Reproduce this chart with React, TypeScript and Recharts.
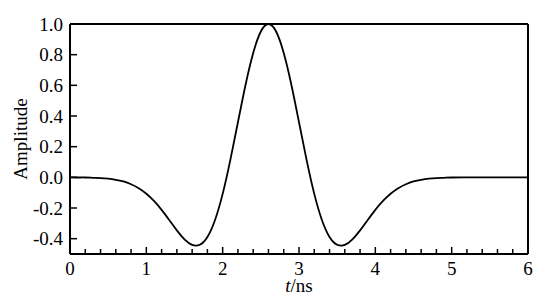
import { LineChart, Line, XAxis, YAxis, ReferenceLine } from "recharts";

// time axis (ns)
const times = [
  0, 0.1, 0.2, 0.3, 0.4, 0.5, 0.6, 0.7, 0.8, 0.9,
  1.0, 1.1, 1.2, 1.3, 1.4, 1.5, 1.6, 1.7, 1.8, 1.9,
  2.0, 2.1, 2.2, 2.3, 2.4, 2.5, 2.6, 2.7, 2.8, 2.9,
  3.0, 3.1, 3.2, 3.3, 3.4, 3.5, 3.6, 3.7, 3.8, 3.9,
  4.0, 4.1, 4.2, 4.3, 4.4, 4.5, 4.6, 4.7, 4.8, 4.9,
  5.0, 5.2, 5.4, 5.6, 5.8, 6.0,
];

// pulse amplitude
const amplitude = [
  0.0, -0.001, -0.001, -0.003, -0.005, -0.009, -0.016, -0.027, -0.045, -0.071,
  -0.107, -0.154, -0.212, -0.278, -0.346, -0.405, -0.441, -0.44, -0.389, -0.278,
  -0.108, 0.112, 0.359, 0.604, 0.811, 0.951, 1.0, 0.951, 0.811, 0.604,
  0.359, 0.112, -0.108, -0.278, -0.389, -0.44, -0.441, -0.405, -0.346, -0.278,
  -0.212, -0.154, -0.107, -0.071, -0.045, -0.027, -0.016, -0.009, -0.005, -0.003,
  -0.001, 0.0, 0.0, 0.0, 0.0, 0.0,
];

const xTicks = [
  0, 0.2, 0.4, 0.6, 0.8, 1, 1.2, 1.4, 1.6, 1.8, 2, 2.2, 2.4, 2.6, 2.8, 3,
  3.2, 3.4, 3.6, 3.8, 4, 4.2, 4.4, 4.6, 4.8, 5, 5.2, 5.4, 5.6, 5.8, 6,
];
const yTicks = [-0.4, -0.2, 0, 0.2, 0.4, 0.6, 0.8, 1.0];

const data = times.map((t, i) => ({ t, amp: amplitude[i] }));

const FONT = "'Liberation Serif', 'Times New Roman', serif";

function XTick(props: any) {
  const { x, y, payload } = props;
  const v = payload.value;
  const major = Math.abs(v - Math.round(v)) < 1e-6;
  return (
    <g>
      <line x1={x} x2={x} y1={y} y2={y - (major ? 7 : 5)} stroke="#000" strokeWidth={1.5} />
      {major && (
        <text x={x} y={y + 21} textAnchor="middle" fontSize={19} fontFamily={FONT} fill="#000">
          {Math.round(v)}
        </text>
      )}
    </g>
  );
}

function YTick(props: any) {
  const { x, y, payload } = props;
  return (
    <g>
      <line x1={x} x2={x + 7} y1={y} y2={y} stroke="#000" strokeWidth={1.5} />
      <text x={x - 7} y={y} dy="0.355em" textAnchor="end" fontSize={19} fontFamily={FONT} fill="#000">
        {payload.value.toFixed(1)}
      </text>
    </g>
  );
}

export default function App() {
  return (
    <div style={{ position: "absolute", left: 0, top: 0, background: "#fff" }}>
      <LineChart width={542} height={300} data={data} margin={{ top: 24, right: 14, bottom: 0, left: 0 }}>
        <XAxis
          dataKey="t"
          type="number"
          domain={[0, 6]}
          ticks={xTicks}
          interval={0}
          tick={<XTick />}
          tickLine={false}
          tickSize={0}
          tickMargin={0}
          height={46}
          axisLine={{ stroke: "#000", strokeWidth: 2 }}
          label={{
            content: () => (
              <text x={299} y={292} textAnchor="middle" fontSize={19} fontFamily={FONT} fill="#000">
                <tspan fontStyle="italic">t</tspan>
                <tspan>/ns</tspan>
              </text>
            ),
          }}
        />
        <YAxis
          type="number"
          domain={[-0.5, 1.0]}
          ticks={yTicks}
          interval={0}
          tick={<YTick />}
          tickLine={false}
          tickSize={0}
          tickMargin={0}
          width={70}
          axisLine={{ stroke: "#000", strokeWidth: 2 }}
          label={{
            content: () => (
              <text
                x={20}
                y={139}
                transform="rotate(-90 20 139)"
                textAnchor="middle"
                dy="0.355em"
                fontSize={19}
                fontFamily={FONT}
                fill="#000"
              >
                Amplitude
              </text>
            ),
          }}
        />
        <ReferenceLine y={1} stroke="#000" strokeWidth={2} />
        <ReferenceLine x={6} stroke="#000" strokeWidth={2} />
        <Line
          type="natural"
          dataKey="amp"
          stroke="#000"
          strokeWidth={1.8}
          dot={false}
          isAnimationActive={false}
        />
      </LineChart>
    </div>
  );
}
